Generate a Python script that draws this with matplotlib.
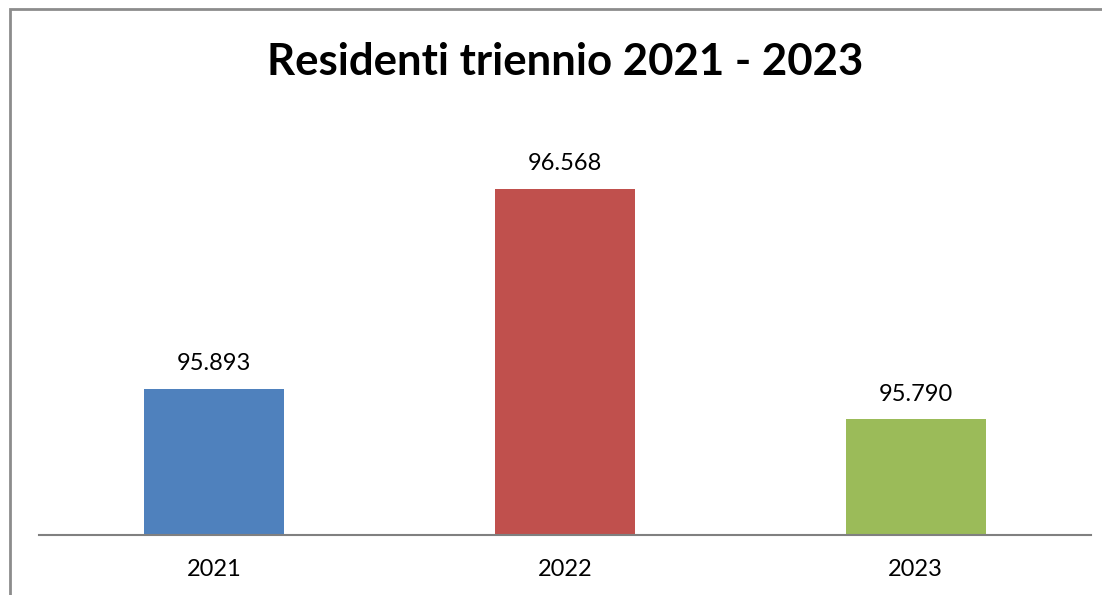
import matplotlib.pyplot as plt
from matplotlib.patches import Rectangle

anni = ["2021", "2022", "2023"]
residenti = [95893, 96568, 95790]
etichette = ["95.893", "96.568", "95.790"]
colori = ["#4f81bd", "#c0504d", "#9bbb59"]

plt.rcParams['font.family'] = ['Lato', 'DejaVu Sans']

fig = plt.figure(figsize=(11.02, 5.95), dpi=100)
ax = fig.add_axes([39 / 1102, 60 / 595, 1052 / 1102, 415 / 595])

x = range(len(anni))
ax.bar(x, [v - 95400 for v in residenti], bottom=95400, width=0.4, color=colori)
for i, v in enumerate(residenti):
    ax.text(i, v + 50, etichette[i], ha='center', va='bottom', fontsize=17)

ax.set_xlim(-0.5, 2.5)
ax.set_ylim(95400, 96800)
ax.set_xticks(list(x))
ax.set_xticklabels(anni, fontsize=17)
ax.tick_params(axis='x', length=0, pad=17)
ax.set_yticks([])
for s in ['top', 'right', 'left']:
    ax.spines[s].set_visible(False)
ax.spines['bottom'].set_color('#808080')
ax.spines['bottom'].set_linewidth(1.5)

fig.text(565 / 1102, 1 - 62 / 595, "Residenti triennio 2021 - 2023",
         ha='center', va='center', fontsize=31.5, fontweight='bold')

# cornice grigia del grafico
fig.patches.append(Rectangle((10 / 1102, -0.5), 2, 1 - 9 / 595 + 0.5,
                             transform=fig.transFigure, fill=False,
                             edgecolor='#8c8c8c', linewidth=2))

fig.savefig("out.png", dpi=100)
